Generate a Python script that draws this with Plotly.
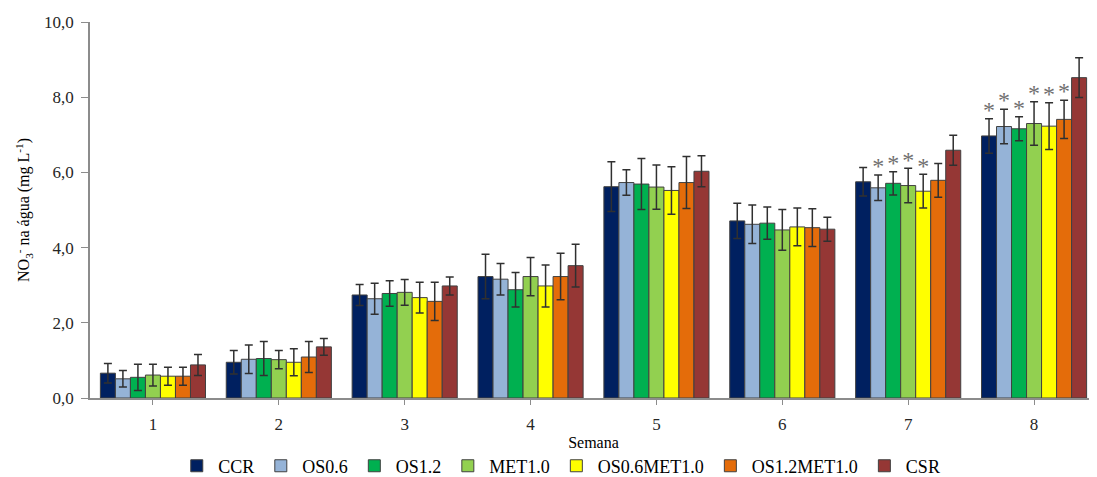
import plotly.graph_objects as go

weeks = [1, 2, 3, 4, 5, 6, 7, 8]
series_names = ["CCR", "OS0.6", "OS1.2", "MET1.0", "OS0.6MET1.0", "OS1.2MET1.0", "CSR"]
colors = ["#002060", "#95B3D7", "#00B050", "#92D050", "#FFFF00", "#E46C0A", "#953735"]

means = {
    "CCR":         [0.66, 0.95, 2.74, 3.23, 5.62, 4.71, 5.75, 6.97],
    "OS0.6":       [0.51, 1.03, 2.64, 3.16, 5.73, 4.62, 5.59, 7.22],
    "OS1.2":       [0.55, 1.05, 2.78, 2.88, 5.69, 4.65, 5.71, 7.16],
    "MET1.0":      [0.61, 1.02, 2.81, 3.23, 5.61, 4.47, 5.65, 7.30],
    "OS0.6MET1.0": [0.58, 0.95, 2.67, 2.98, 5.52, 4.55, 5.50, 7.23],
    "OS1.2MET1.0": [0.58, 1.09, 2.57, 3.23, 5.73, 4.53, 5.79, 7.41],
    "CSR":         [0.88, 1.36, 2.98, 3.52, 6.03, 4.49, 6.59, 8.52],
}
errors = {
    "CCR":         [0.26, 0.31, 0.28, 0.59, 0.66, 0.47, 0.38, 0.46],
    "OS0.6":       [0.22, 0.38, 0.41, 0.42, 0.34, 0.51, 0.34, 0.46],
    "OS1.2":       [0.35, 0.45, 0.34, 0.46, 0.68, 0.43, 0.31, 0.32],
    "MET1.0":      [0.29, 0.24, 0.34, 0.51, 0.59, 0.54, 0.46, 0.58],
    "OS0.6MET1.0": [0.24, 0.36, 0.41, 0.56, 0.63, 0.50, 0.45, 0.62],
    "OS1.2MET1.0": [0.24, 0.41, 0.51, 0.62, 0.69, 0.50, 0.45, 0.51],
    "CSR":         [0.28, 0.22, 0.24, 0.57, 0.41, 0.32, 0.40, 0.53],
}
# significance markers (week, series)
signif = [
    (7, "OS0.6"), (7, "OS1.2"), (7, "MET1.0"), (7, "OS0.6MET1.0"),
    (8, "CCR"), (8, "OS0.6"), (8, "OS1.2"), (8, "MET1.0"), (8, "OS0.6MET1.0"), (8, "OS1.2MET1.0"),
]
tick_labels = ["1", "2", "3", "4", "5", "6", "7", "8"]

FONT = "'Liberation Serif', 'Times New Roman', Times, serif"
bargap = 0.165
n = len(series_names)
bw = (1 - bargap) / n

fig = go.Figure()
for name, col in zip(series_names, colors):
    fig.add_trace(go.Bar(
        x=weeks, y=means[name], name=name,
        marker=dict(color=col, line=dict(color="#404040", width=1)),
        error_y=dict(type="data", array=errors[name], visible=True,
                     color="#303030", thickness=1.5, width=4),
    ))

sx, sy = [], []
for wk, name in signif:
    i = series_names.index(name)
    k = weeks.index(wk)
    sx.append(wk - (1 - bargap) / 2 + (i + 0.5) * bw)
    sy.append(means[name][k] + errors[name][k] + 0.18)
fig.add_trace(go.Scatter(
    x=sx, y=sy, mode="text", text=["*"] * len(sx), showlegend=False,
    textfont=dict(family=FONT, size=24, color="#707070"), hoverinfo="skip",
))

# page body has an 8px margin, so the figure is sized/offset to compensate
fig.update_layout(
    width=1089, height=469,
    margin=dict(l=82, r=0, t=14, b=79, autoexpand=False),
    paper_bgcolor="white", plot_bgcolor="white",
    barmode="group", bargap=bargap, bargroupgap=0,
    separators=",.",
    font=dict(family=FONT, size=17, color="#262626"),
    showlegend=True,
    legend=dict(orientation="h", x=0.467, xanchor="center", y=-0.181, yanchor="middle",
                font=dict(family=FONT, size=18, color="#000000"),
                itemwidth=33, traceorder="normal"),
    xaxis=dict(range=[0.5, 8.5], tickvals=weeks, ticktext=tick_labels,
               showline=True, linecolor="#8c8c8c", linewidth=1.5,
               ticks="outside", ticklen=5, tickcolor="#8c8c8c",
               ticklabelstandoff=5,
               showgrid=False, zeroline=False,
               title=dict(text="Semana", font=dict(family=FONT, size=16, color="#000000"), standoff=4)),
    yaxis=dict(range=[0, 10], tickvals=[0, 2, 4, 6, 8, 10], tickformat=".1f",
               showline=True, linecolor="#8c8c8c", linewidth=1.5,
               ticks="outside", ticklen=7, tickcolor="#8c8c8c",
               ticklabelstandoff=4,
               showgrid=False, zeroline=False,
               title=dict(text="NO<sub>3</sub><sup>-</sup> na água (mg L<sup>-1</sup>)",
                          font=dict(family=FONT, size=16, color="#000000"), standoff=10)),
)

fig.write_html("out.html")
